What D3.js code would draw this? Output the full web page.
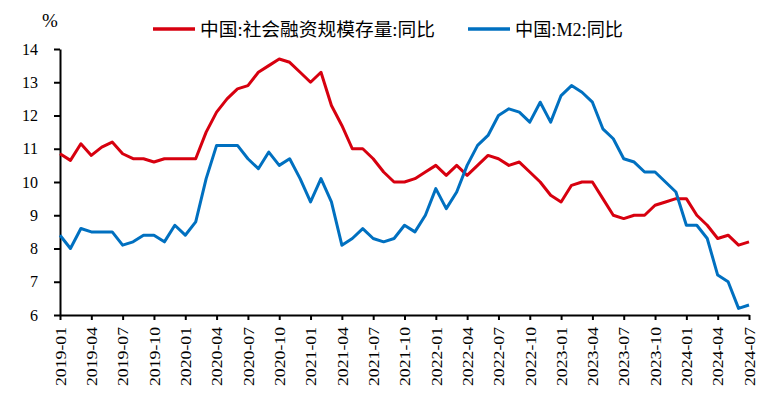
<!DOCTYPE html>
<html>
<head>
<meta charset="utf-8">
<script src="https://cdn.jsdelivr.net/npm/d3@7/dist/d3.min.js"></script>
<style>
  html, body { margin: 0; padding: 0; background: #fff; }
  svg { display: block; }
</style>
</head>
<body>
<svg id="chart" width="773" height="393"></svg>
<script>
const months = [
  "2019-01","2019-02","2019-03","2019-04","2019-05","2019-06","2019-07","2019-08","2019-09","2019-10","2019-11","2019-12",
  "2020-01","2020-02","2020-03","2020-04","2020-05","2020-06","2020-07","2020-08","2020-09","2020-10","2020-11","2020-12",
  "2021-01","2021-02","2021-03","2021-04","2021-05","2021-06","2021-07","2021-08","2021-09","2021-10","2021-11","2021-12",
  "2022-01","2022-02","2022-03","2022-04","2022-05","2022-06","2022-07","2022-08","2022-09","2022-10","2022-11","2022-12",
  "2023-01","2023-02","2023-03","2023-04","2023-05","2023-06","2023-07","2023-08","2023-09","2023-10","2023-11","2023-12",
  "2024-01","2024-02","2024-03","2024-04","2024-05","2024-06","2024-07"
];
const tsfGrowth = [
  10.85,10.65,11.15,10.8,11.05,11.2,10.85,10.7,10.7,10.6,10.7,10.7,
  10.7,10.7,11.5,12.1,12.5,12.8,12.9,13.3,13.5,13.7,13.6,13.3,
  13.0,13.3,12.3,11.7,11.0,11.0,10.7,10.3,10.0,10.0,10.1,10.3,
  10.5,10.2,10.5,10.2,10.5,10.8,10.7,10.5,10.6,10.3,10.0,9.6,
  9.4,9.9,10.0,10.0,9.5,9.0,8.9,9.0,9.0,9.3,9.4,9.5,
  9.5,9.0,8.7,8.3,8.4,8.1,8.2
];
const m2Growth = [
  8.4,8.0,8.6,8.5,8.5,8.5,8.1,8.2,8.4,8.4,8.2,8.7,
  8.4,8.8,10.1,11.1,11.1,11.1,10.7,10.4,10.9,10.5,10.7,10.1,
  9.4,10.1,9.4,8.1,8.3,8.6,8.3,8.2,8.3,8.7,8.5,9.0,
  9.8,9.2,9.7,10.5,11.1,11.4,12.0,12.2,12.1,11.8,12.4,11.8,
  12.6,12.9,12.7,12.4,11.6,11.3,10.7,10.6,10.3,10.3,10.0,9.7,
  8.7,8.7,8.3,7.2,7.0,6.2,6.3
];
const xTickLabels = [
  "2019-01","2019-04","2019-07","2019-10","2020-01","2020-04","2020-07","2020-10",
  "2021-01","2021-04","2021-07","2021-10","2022-01","2022-04","2022-07","2022-10",
  "2023-01","2023-04","2023-07","2023-10","2024-01","2024-04","2024-07"
];
const yTicks = [6,7,8,9,10,11,12,13,14];
const seriesNames = ["中国:社会融资规模存量:同比", "中国:M2:同比"];
const seriesColors = ["#D7000F", "#0070C0"];

(function () {
const svg = d3.select("#chart");
const plotLeft = 60, plotRight = 749, plotTop = 49, plotBottom = 315;
const x = d3.scalePoint().domain(months).range([plotLeft, plotRight]);
const y = d3.scaleLinear().domain([6, 14]).range([plotBottom, plotTop]);
const serif = "'Liberation Serif', 'Times New Roman', serif";

// Y axis
const yAxis = svg.append("g")
  .attr("transform", `translate(${plotLeft},0)`)
  .call(d3.axisLeft(y).tickValues(yTicks).tickSize(6).tickSizeOuter(0).tickPadding(16));
yAxis.select(".domain").attr("stroke", "#000").attr("stroke-width", 2);
yAxis.selectAll(".tick line").attr("stroke", "#000").attr("stroke-width", 2);
yAxis.selectAll(".tick text")
  .attr("font-family", serif).attr("font-size", 16).attr("fill", "#000");

// X axis
const xAxis = svg.append("g")
  .attr("transform", `translate(0,${plotBottom})`)
  .call(d3.axisBottom(x).tickValues(xTickLabels).tickSize(5).tickSizeOuter(0));
xAxis.select(".domain").attr("stroke", "#000").attr("stroke-width", 2);
xAxis.selectAll(".tick line").attr("stroke", "#000").attr("stroke-width", 2);
xAxis.selectAll(".tick text")
  .attr("font-family", serif).attr("font-size", 15).attr("fill", "#000")
  .attr("text-anchor", "end")
  .attr("transform", "rotate(-90)")
  .attr("x", -12).attr("y", 0).attr("dy", "0.35em")
  .attr("textLength", 59).attr("lengthAdjust", "spacingAndGlyphs");

// unit label
svg.append("text").attr("x", 50).attr("y", 27).attr("text-anchor", "middle")
  .attr("font-family", serif).attr("font-size", 19).text("%");

// Lines
const line = d3.line().x((d, i) => x(months[i])).y(d => y(d));
[tsfGrowth, m2Growth].forEach((s, k) => {
  svg.append("path").datum(s)
    .attr("fill", "none").attr("stroke", seriesColors[k])
    .attr("stroke-width", 3).attr("stroke-linejoin", "round")
    .attr("d", line);
});

// Legend
const legendPos = [{x1: 153, x2: 195, tx: 200, tl: 235}, {x1: 468, x2: 510, tx: 515, tl: 108}];
seriesNames.forEach((name, k) => {
  const p = legendPos[k];
  svg.append("line").attr("x1", p.x1).attr("x2", p.x2).attr("y1", 29).attr("y2", 29)
    .attr("stroke", seriesColors[k]).attr("stroke-width", 3.5);
  svg.append("text").attr("x", p.tx).attr("y", 30)
    .attr("dominant-baseline", "central")
    .attr("font-family", "'Liberation Serif', 'Noto Sans CJK SC', serif")
    .attr("font-size", 18.5).attr("fill", "#000")
    .attr("textLength", p.tl).attr("lengthAdjust", "spacingAndGlyphs")
    .text(name);
});
})();
</script>
</body>
</html>
